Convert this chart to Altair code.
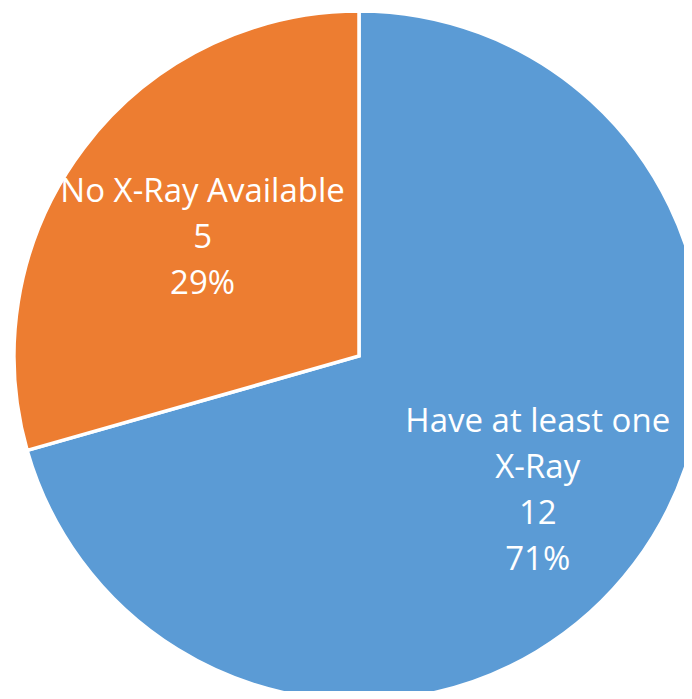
import altair as alt
import pandas as pd

categories = ["Have at least one X-Ray", "No X-Ray Available"]
label_lines = ["Have at least one\nX-Ray", "No X-Ray Available"]
values = [12, 5]
colors = ["#5B9BD5", "#ED7D31"]

df = pd.DataFrame({
    "category": categories,
    "label": label_lines,
    "value": values,
    "order": [0, 1],
})

CX, CY = 351, 348
FONT = "Open Sans"
LH = 46

base = alt.Chart(df).transform_joinaggregate(
    total="sum(value)"
).transform_stack(
    stack="value", groupby=[], as_=["v0", "v1"], sort=[alt.SortField("order", order="ascending")]
).transform_calculate(
    mid="(datum.v0 + datum.v1) / 2",
    txt="datum.label + '\\n' + datum.value + '\\n' + format(datum.value / datum.total, '.0%')",
)

pie = base.mark_arc(radius=345, stroke="white", strokeWidth=3.5).encode(
    theta=alt.Theta("v0:Q", stack=None, scale=alt.Scale(domain=[0, 17])),
    theta2="v1:Q",
    color=alt.Color("category:N", scale=alt.Scale(domain=categories, range=colors), legend=None),
    x=alt.value(CX),
    y=alt.value(CY),
)

text_common = dict(font=FONT, fontSize=33, color="white", lineBreak="\n",
                   lineHeight=LH, align="center", baseline="middle")

txt_blue = base.transform_filter(alt.datum.order == 0).mark_text(
    radius=224, dy=-1.5 * LH, **text_common
).encode(
    theta=alt.Theta("mid:Q", stack=None),
    text="txt:N", x=alt.value(CX), y=alt.value(CY),
)

txt_orange = base.transform_filter(alt.datum.order == 1).mark_text(
    radius=196, dy=-1.0 * LH, **text_common
).encode(
    theta=alt.Theta("mid:Q", stack=None),
    text="txt:N", x=alt.value(CX), y=alt.value(CY),
)

chart = alt.layer(pie, txt_blue, txt_orange).properties(
    width=676, height=683, padding=0, autosize=alt.AutoSizeParams(type="none")
).configure_view(stroke=None)

chart.save("out.html", embed_options={"renderer": "svg", "actions": False})
